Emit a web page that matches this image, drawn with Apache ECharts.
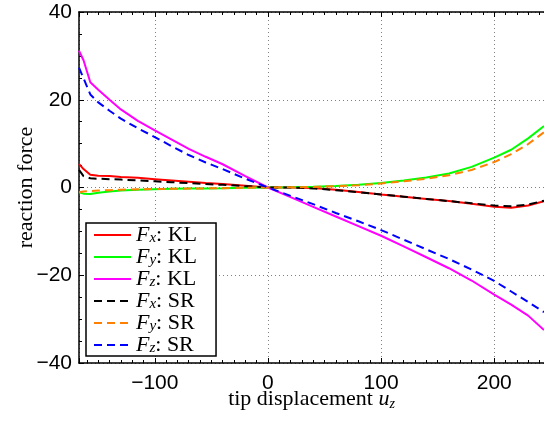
<!DOCTYPE html>
<html>
<head>
<meta charset="utf-8">
<script src="https://cdn.jsdelivr.net/npm/echarts@6/dist/echarts.min.js"></script>
<style>
html,body{margin:0;padding:0;background:#fff;}
#chart{width:544px;height:421px;}
</style>
</head>
<body>
<div id="chart"></div>
<script>
// tip displacement u_z
const uz = [-167, -163, -157, -150, -140, -130, -115, -100, -85, -70, -55, -40, -20, 0, 20, 40, 60, 80, 100, 120, 140, 160, 180, 200, 215, 230, 244];
// KL results
const FxKL = [5.4, 4.2, 2.9, 2.7, 2.6, 2.4, 2.2, 1.9, 1.6, 1.3, 1.0, 0.8, 0.4, 0, 0, -0.1, -0.5, -1.0, -1.6, -2.1, -2.6, -3.1, -3.7, -4.4, -4.6, -4.1, -3.1];
const FyKL = [-1.1, -1.4, -1.5, -1.2, -0.9, -0.7, -0.5, -0.4, -0.3, -0.25, -0.2, -0.15, -0.05, 0, 0.05, 0.15, 0.35, 0.6, 1.0, 1.6, 2.3, 3.2, 4.7, 6.8, 8.6, 11.2, 14.0];
const FzKL = [31.2, 29.0, 24.0, 22.3, 20.0, 17.8, 15.2, 13.0, 10.9, 8.8, 7.0, 5.3, 2.6, 0, -2.2, -4.4, -6.6, -8.8, -11.0, -13.4, -15.9, -18.4, -21.2, -24.4, -26.7, -29.2, -32.5];
// SR results
const FxSR = [4.0, 2.6, 2.1, 2.0, 1.9, 1.8, 1.6, 1.4, 1.2, 1.0, 0.8, 0.6, 0.3, 0, 0, -0.2, -0.6, -1.1, -1.6, -2.1, -2.6, -3.1, -3.6, -4.1, -4.3, -3.9, -3.0];
const FySR = [-1.1, -0.9, -0.8, -0.7, -0.6, -0.5, -0.4, -0.35, -0.3, -0.25, -0.2, -0.15, -0.05, 0, 0.05, 0.1, 0.3, 0.5, 0.9, 1.4, 2.0, 2.8, 4.0, 5.8, 7.6, 9.9, 12.6];
const FzSR = [27.3, 24.9, 21.2, 19.4, 17.5, 15.7, 13.5, 11.5, 9.4, 7.4, 5.7, 4.2, 2.0, 0, -1.9, -3.8, -5.8, -7.7, -9.7, -11.9, -14.1, -16.3, -18.7, -21.3, -23.7, -26.1, -28.4];

const seriesNames = ['Fx: KL', 'Fy: KL', 'Fz: KL', 'Fx: SR', 'Fy: SR', 'Fz: SR'];
const seriesValues = [FxKL, FyKL, FzKL, FxSR, FySR, FzSR];
const seriesColors = ['#ff0000', '#00ff00', '#ff00ff', '#000000', '#ff8000', '#0000ff'];
const seriesDashed = [false, false, false, true, true, true];

const xTicks = [-100, 0, 100, 200];

const chart = echarts.init(document.getElementById('chart'), null, {renderer: 'canvas'});

const tickFont = {fontFamily: '"Liberation Sans", Arial, sans-serif', fontSize: 21, color: '#000'};
const minus = v => String(v).replace('-', '\u2212');
const serif = '"Liberation Serif", "Times New Roman", serif';

const series = seriesNames.map((name, i) => ({
  name: name,
  type: 'line',
  symbol: 'none',
  showSymbol: false,
  data: uz.map((u, j) => [u, seriesValues[i][j]]),
  lineStyle: {color: seriesColors[i], width: 2, type: seriesDashed[i] ? [8, 5] : 'solid'},
  itemStyle: {color: seriesColors[i]},
  emphasis: {disabled: true},
  z: seriesDashed[i] ? 3 : 2
}));

const gridDot = {show: true, lineStyle: {color: '#7f7f7f', width: 1, type: [1, 3]}};
const axisBlack = {show: true, onZero: false, lineStyle: {color: '#000', width: 1.5}};

const option = {
  animation: false,
  backgroundColor: '#fff',
  grid: {left: 79, top: 12, right: 0, bottom: 58, containLabel: false, outerBoundsMode: 'none'},
  legend: {
    orient: 'vertical',
    left: 86, top: 223,
    backgroundColor: '#fff',
    borderColor: '#000', borderWidth: 1.5,
    padding: [-7, 19, 0, 7],
    itemWidth: 37, itemHeight: 14, itemGap: -8,
    itemStyle: {opacity: 0},
    data: seriesNames,
    formatter: function (name) {
      const sub = name.charAt(1);
      const rest = name.slice(2);
      return '{F|F}{s|' + sub + '}{t|' + rest + '}';
    },
    textStyle: {
      fontFamily: serif, fontSize: 22, color: '#000', lineHeight: 22,
      rich: {
        F: {fontFamily: serif, fontStyle: 'italic', fontSize: 22, lineHeight: 22},
        s: {fontFamily: serif, fontStyle: 'italic', fontSize: 15, lineHeight: 15, verticalAlign: 'bottom', padding: [15, 0, 0, 0]},
        t: {fontFamily: serif, fontSize: 22, lineHeight: 22}
      }
    }
  },
  xAxis: [
    {
      type: 'value', position: 'bottom', min: -167, max: 244, splitNumber: 4,
      axisLine: axisBlack,
      axisTick: {show: true, inside: true, length: 5, lineStyle: {color: '#000', width: 1}},
      minorTick: {show: true, splitNumber: 10, length: 3, lineStyle: {color: '#000', width: 1}},
      splitLine: gridDot,
      axisLabel: Object.assign({margin: 10, showMinLabel: false, showMaxLabel: false,
        formatter: v => (xTicks.indexOf(v) >= 0 ? minus(v) : '')}, tickFont),
      name: '{t|tip displacement }{u|u}{s|z}',
      nameLocation: 'middle', nameGap: 24, nameMoveOverlap: false,
      nameTextStyle: {
        fontFamily: serif, fontSize: 22, color: '#000',
        rich: {
          t: {fontFamily: serif, fontSize: 22, lineHeight: 24},
          u: {fontFamily: serif, fontStyle: 'italic', fontSize: 22, lineHeight: 24},
          s: {fontFamily: serif, fontStyle: 'italic', fontSize: 14, lineHeight: 14, verticalAlign: 'bottom', padding: [12, 0, 0, 0]}
        }
      }
    },
    {
      type: 'value', position: 'top', min: -167, max: 244, splitNumber: 4,
      axisLine: axisBlack,
      axisTick: {show: true, inside: true, length: 5, lineStyle: {color: '#000', width: 1}},
      minorTick: {show: true, splitNumber: 10, length: 3, lineStyle: {color: '#000', width: 1}},
      splitLine: {show: false},
      axisLabel: {show: false}
    }
  ],
  yAxis: [
    {
      type: 'value', position: 'left', min: -40, max: 40, interval: 20,
      axisLine: axisBlack,
      axisTick: {show: true, inside: true, length: 5, lineStyle: {color: '#000', width: 1}},
      minorTick: {show: true, splitNumber: 4, length: 3, lineStyle: {color: '#000', width: 1}},
      splitLine: gridDot,
      axisLabel: Object.assign({margin: 7, formatter: v => minus(v)}, tickFont),
      name: 'reaction force',
      nameLocation: 'middle', nameRotate: 90, nameGap: 42, nameMoveOverlap: false,
      nameTextStyle: {fontFamily: serif, fontSize: 22, color: '#000'}
    }
  ],
  series: series
};
chart.setOption(option);
</script>
</body>
</html>
